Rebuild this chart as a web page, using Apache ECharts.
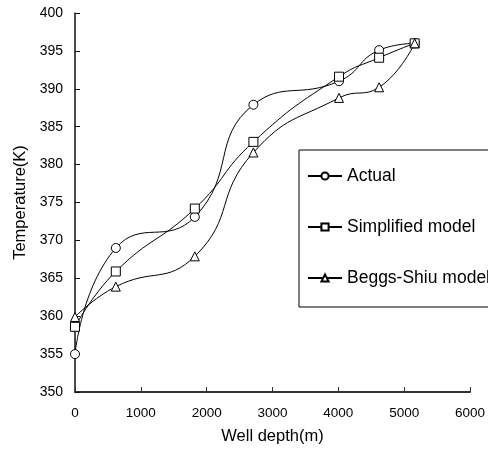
<!DOCTYPE html>
<html>
<head>
<meta charset="utf-8">
<style>html,body{margin:0;padding:0;background:#fff;}#c{width:488px;height:454px;}</style>
<script src="https://cdn.jsdelivr.net/npm/echarts@6/dist/echarts.min.js"></script>
</head>
<body>
<div id="c"></div>
<script>
const depth = [0, 620, 1820, 2710, 4010, 4620, 5160];
const actual = [355, 369, 373.1, 387.9, 391, 395.1, 396];
const simplified = [358.6, 365.9, 374.2, 383, 391.6, 394.1, 396];
const beggs = [359.9, 363.9, 367.9, 381.6, 388.8, 390.2, 396];
const seriesNames = ['Actual', 'Simplified model', 'Beggs-Shiu model'];
const xTicks = { min: 0, max: 6000, interval: 1000 };
const yTicks = { min: 350, max: 400, interval: 5 };

const font = 'Liberation Sans, Arial, sans-serif';
function pairs(vals) { return depth.map((d, i) => [d, vals[i]]); }
function mk(name, vals, symbol) {
  return {
    name: name, type: 'line', data: pairs(vals), smooth: 0.5,
    symbol: symbol, symbolSize: 9,
    lineStyle: { color: '#000', width: 1 },
    itemStyle: { color: '#fff', borderColor: '#000', borderWidth: 1 },
    emphasis: { disabled: true }
  };
}
const chart = echarts.init(document.getElementById('c'));
chart.setOption({
  animation: false,
  backgroundColor: '#fff',
  grid: { left: 75, right: 15, top: 13, bottom: 62, containLabel: false },
  legend: {
    orient: 'vertical', left: 299, top: 150,
    data: seriesNames,
    itemWidth: 34, itemHeight: 9, itemGap: 33,
    padding: [17, 60, 20, 8],
    borderColor: '#000', borderWidth: 1,
    textStyle: { fontFamily: font, fontSize: 17.5, color: '#000' }
  },
  xAxis: {
    type: 'value', min: xTicks.min, max: xTicks.max, interval: xTicks.interval,
    name: 'Well depth(m)', nameLocation: 'middle', nameGap: 36,
    nameTextStyle: { fontFamily: font, fontSize: 16.5, color: '#000' },
    axisLine: { show: true, lineStyle: { color: '#333', width: 2 } },
    axisTick: { show: true, inside: true, length: 5, lineStyle: { color: '#333', width: 1 } },
    axisLabel: { fontFamily: font, fontSize: 13.5, color: '#000', margin: 14, formatter: v => String(v) },
    splitLine: { show: false }
  },
  yAxis: {
    type: 'value', min: yTicks.min, max: yTicks.max, interval: yTicks.interval,
    name: 'Temperature(K)', nameLocation: 'middle', nameGap: 44,
    nameTextStyle: { fontFamily: font, fontSize: 16.5, color: '#000' },
    axisLine: { show: true, lineStyle: { color: '#111', width: 1.5 } },
    axisTick: { show: true, inside: true, length: 5, lineStyle: { color: '#111', width: 1 } },
    axisLabel: { fontFamily: font, fontSize: 14, color: '#000', margin: 12, formatter: v => String(v) },
    splitLine: { show: false }
  },
  series: [
    mk(seriesNames[0], actual, 'circle'),
    mk(seriesNames[1], simplified, 'rect'),
    mk(seriesNames[2], beggs, 'triangle')
  ]
});
</script>
</body>
</html>
